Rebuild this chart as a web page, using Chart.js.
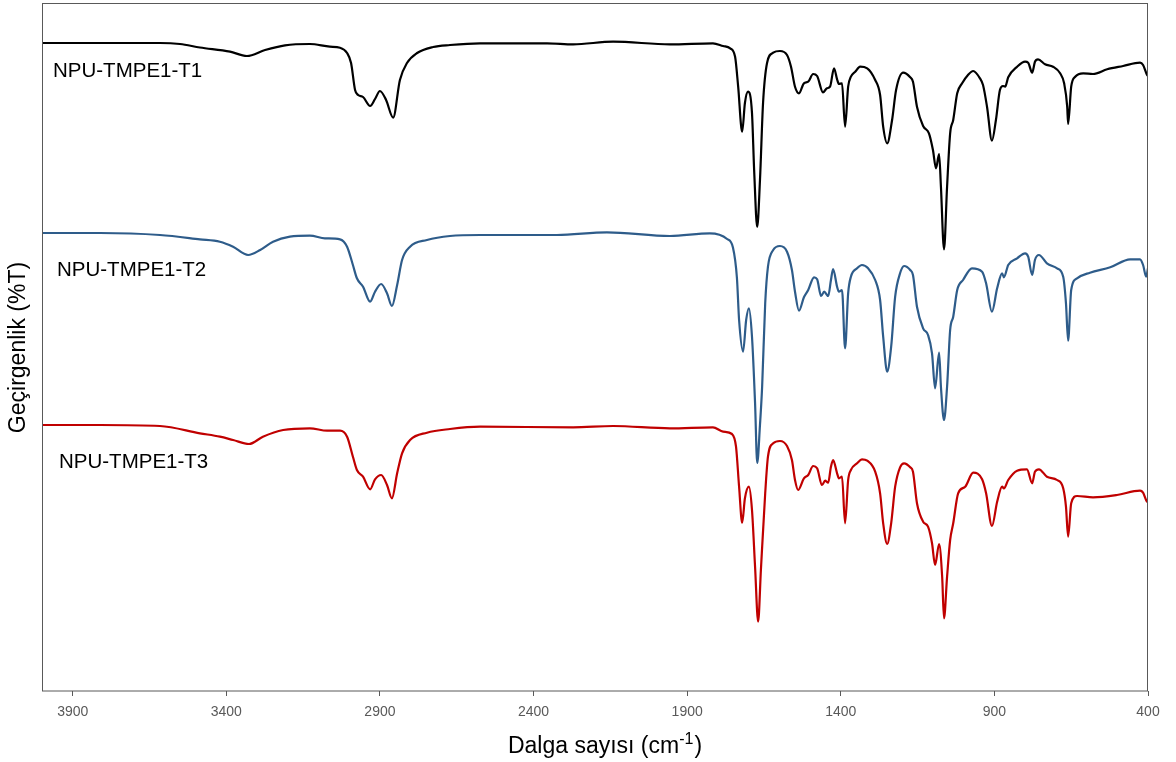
<!DOCTYPE html>
<html>
<head>
<meta charset="utf-8">
<script src="https://cdn.jsdelivr.net/npm/chart.js@4.4.1/dist/chart.umd.min.js"></script>
<style>
  html, body { margin: 0; padding: 0; background: #ffffff; }
  #wrap { width: 1176px; height: 762px; position: relative; }
</style>
</head>
<body>
<div id="wrap"><canvas id="c" width="1176" height="762"></canvas></div>
<script>
// ---- Data (wavenumber in cm-1, transmittance in arbitrary offset units) ----
const SERIES_NAMES = ["NPU-TMPE1-T1", "NPU-TMPE1-T2", "NPU-TMPE1-T3"];
const X_TICKS = [3900, 3400, 2900, 2400, 1900, 1400, 900, 400];
const X_TITLE = ["Dalga sayısı (cm", "-1", ")"];
const Y_TITLE = "Geçirgenlik (%T)";

const T1_WN = [4000,3811,3616,3551,3486,3388,3333,3274,3209,3128,3063,3030,3007,2994,2981,2971,2955,2932,2916,2900,2880,2857,2835,2812,2779,2727,2672,2574,2356,2271,2141,1956,1816,1783,1760,1744,1734,1721,1712,1702,1689,1682,1672,1663,1653,1640,1620,1598,1575,1562,1549,1536,1520,1506,1490,1477,1458,1445,1435,1422,1412,1406,1396,1386,1376,1367,1353,1337,1314,1288,1272,1262,1249,1233,1220,1197,1174,1165,1152,1132,1113,1100,1090,1080,1074,1064,1054,1044,1034,1021,1005,986,969,947,937,924,908,895,882,872,865,855,826,800,790,777,768,758,735,709,686,673,663,660,650,637,611,579,533,481,426,416,403,400];
const T1_VAL = [648,648,648,647,643.5,639.3,635,641,645.7,647,644.3,643.3,638,628,601,596,594,585,592,600,591,573.4,611,628,638,644,646,647.7,647.7,646.7,649.3,646.7,647.7,645,642.7,634.3,604.3,559.3,588,599.3,578,521,464,511,588,628,638.3,640,636,624.3,604.3,597.7,607.7,609.3,617,615,598.7,602.7,604.3,622.7,611.7,607,607.7,564.3,604.3,614.3,619.3,624.3,622.7,611,596,564.3,547.7,571,601,618.3,613.7,609.3,584.3,565,557.7,541,522.7,537,504.3,441.7,504.3,557.7,571,597.7,607.7,616,620,612.7,606,584.3,550.3,571,601,605,604.3,613.7,624.3,629.3,628.3,618.3,629.3,631.7,626.7,624.3,617.7,607.7,584.3,567,604.3,614.3,617.7,617,621.7,625,628.3,626,616,615];

const T2_WN = [4000,3811,3616,3486,3421,3378,3329,3290,3248,3193,3128,3079,3030,3007,2988,2975,2955,2932,2916,2896,2877,2861,2844,2828,2802,2747,2672,2574,2324,2161,1956,1826,1770,1751,1738,1731,1718,1708,1699,1689,1679,1672,1663,1656,1646,1637,1620,1598,1575,1559,1549,1536,1520,1506,1487,1477,1464,1454,1441,1432,1425,1412,1406,1396,1386,1376,1367,1347,1331,1311,1288,1272,1262,1249,1236,1223,1207,1194,1174,1165,1152,1132,1116,1103,1093,1080,1074,1064,1054,1044,1034,1021,1002,973,940,927,908,891,875,869,855,826,800,790,777,768,755,729,696,676,667,660,650,631,589,523,458,426,416,406,400];
const T2_VAL = [458,458,456,451.7,449.3,444.3,436,441,449.3,454.3,455.3,452.7,451.7,444.3,426,412.7,404.3,389.3,399.3,407,397.7,385,406,431,444.3,451,455,456,456,458.7,455,457.7,452,443.5,413,371,339.3,371,382.7,354.3,288,228,266,304.3,387.7,424.3,441,445,439.3,421,399.3,380.3,393.7,401,413.7,411.7,395,399.3,395,411,422,404.3,399.3,401,342.7,397.7,414.3,422.7,426,422.7,411,391,354.3,319.3,344.3,394.3,417.7,425,421,416,384.3,362.7,356,337.7,302.7,338.3,304.3,271,304.3,361,374.3,401,411,422.7,419.3,407.7,379.3,402.7,417.7,413.7,426,432.7,437.7,434.3,416,431,436,427.7,422.7,414.3,387.7,350.3,401,412.7,418.3,423.7,431.7,431.7,426,414.3,422.7];

const T3_WN = [4000,3811,3616,3486,3421,3378,3326,3281,3215,3128,3072,3030,3007,2988,2975,2955,2932,2916,2896,2877,2861,2844,2828,2802,2747,2672,2574,2271,2141,1956,1816,1783,1754,1741,1731,1721,1712,1699,1689,1679,1669,1660,1646,1637,1620,1598,1575,1559,1549,1539,1520,1506,1490,1477,1461,1451,1441,1432,1425,1412,1406,1396,1386,1376,1367,1347,1331,1314,1288,1272,1262,1249,1236,1223,1207,1194,1174,1165,1152,1132,1116,1103,1093,1080,1070,1064,1054,1044,1034,1018,995,969,940,927,908,891,875,869,855,826,794,777,768,755,729,696,676,667,660,650,631,579,501,426,416,403,400];
const T3_VAL = [266,266,265,257.7,254.3,251,247,254.3,261,262.7,260.3,260.3,254.3,234.3,221,214.3,201.7,211.7,216,206,192.7,217.7,237.7,251,258.3,262,264.3,263.7,265,262.7,263.7,259.3,257,244.3,204.3,168.3,192.7,204.3,181,124.3,69.3,121,197.7,234.3,247.7,250,245,231,211,201,212.7,216,225,222.7,206,210.3,208.3,224.3,231,217.7,212.7,214.3,167.7,211,221,227.7,231.7,230.3,219.3,197.7,167.7,147,167.7,204.3,223.7,227.7,223.7,219.3,187.7,169.3,164.3,147.7,126,147,114.3,72.7,114.3,151,167.7,197.7,204.3,218.3,211.7,197.7,165,189.3,204.3,202.7,211,220.3,221.7,207.7,219.3,221.7,214.3,211,202.7,184.3,154.3,187.7,195,193.7,196,200.3,198.3,189.3,189];

const COLORS = ["#000000", "#2E5C8A", "#C00000"];
const FONT = '"Liberation Sans", Arial, sans-serif';

function pairs(xs, ys) { return xs.map((x, i) => ({ x: x, y: ys[i] })); }

// Plot frame, in-plot series labels and x-axis title with superscript
const framePlugin = {
  id: 'frame',
  afterDraw(chart) {
    const { ctx, chartArea: a } = chart;
    ctx.save();
    ctx.strokeStyle = '#595959';
    ctx.lineWidth = 1;
    ctx.strokeRect(Math.round(a.left) + 0.5, Math.round(a.top) - 0.5, Math.round(a.right - a.left) - 1, Math.round(a.bottom - a.top) + 0.5);

    ctx.fillStyle = '#000000';
    ctx.font = '20.5px ' + FONT;
    ctx.textBaseline = 'alphabetic';
    ctx.textAlign = 'left';
    const pos = [[11, 73], [15, 272], [17, 464]];
    SERIES_NAMES.forEach((n, i) => ctx.fillText(n, a.left + pos[i][0], a.top + pos[i][1]));

    // x title: main text + superscript
    const mainFont = '23px ' + FONT, supFont = '16px ' + FONT;
    ctx.font = mainFont; const w0 = ctx.measureText(X_TITLE[0]).width; const w2 = ctx.measureText(X_TITLE[2]).width;
    ctx.font = supFont; const w1 = ctx.measureText(X_TITLE[1]).width;
    const total = w0 + w1 + 1 + w2;
    let x = (a.left + a.right) / 2 + 10 - total / 2;
    const base = 753;
    ctx.font = mainFont; ctx.fillText(X_TITLE[0], x, base); x += w0;
    ctx.font = supFont; ctx.fillText(X_TITLE[1], x, base - 9); x += w1 + 1;
    ctx.font = mainFont; ctx.fillText(X_TITLE[2], x, base);
    ctx.restore();
  }
};

new Chart(document.getElementById('c'), {
  type: 'line',
  data: {
    datasets: [
      { label: SERIES_NAMES[0], data: pairs(T1_WN, T1_VAL), borderColor: COLORS[0] },
      { label: SERIES_NAMES[1], data: pairs(T2_WN, T2_VAL), borderColor: COLORS[1] },
      { label: SERIES_NAMES[2], data: pairs(T3_WN, T3_VAL), borderColor: COLORS[2] }
    ]
  },
  options: {
    responsive: false,
    animation: false,
    devicePixelRatio: 1,
    layout: { padding: { left: 0, right: 28, top: 4, bottom: 0 } },
    elements: {
      point: { radius: 0 },
      line: { borderWidth: 2.2, cubicInterpolationMode: 'monotone', fill: false }
    },
    plugins: { legend: { display: false }, tooltip: { enabled: false } },
    scales: {
      x: {
        type: 'linear',
        reverse: true,
        min: 400,
        max: 4000,
        afterBuildTicks: (axis) => { axis.ticks = X_TICKS.map(v => ({ value: v })); },
        afterFit: (axis) => { axis.height = 71; },
        border: { display: false },
        grid: { display: true, drawOnChartArea: false, drawTicks: true, tickLength: 5, color: '#595959' },
        ticks: {
          color: '#595959',
          padding: 8,
          maxRotation: 0,
          autoSkip: false,
          font: { family: FONT, size: 14 },
          callback: (v) => String(v)
        },
        title: { display: false }
      },
      y: {
        type: 'linear',
        min: 0,
        max: 687,
        afterFit: (axis) => { axis.width = 42; },
        border: { display: false },
        grid: { display: false },
        ticks: { display: false },
        title: {
          display: true,
          text: Y_TITLE,
          color: '#000000',
          font: { family: FONT, size: 23 },
          padding: { top: 5, bottom: 0 }
        }
      }
    }
  },
  plugins: [framePlugin]
});
</script>
</body>
</html>
